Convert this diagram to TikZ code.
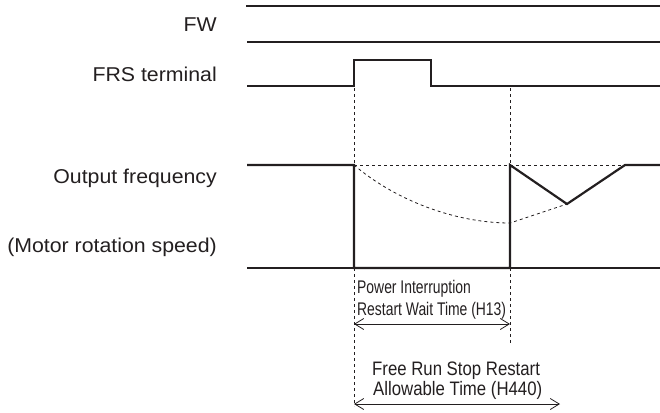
\documentclass[tikz,border=0pt]{standalone}
\usepackage{fontspec}
\setmainfont{Liberation Sans}
\newfontfamily\lblfont[FakeStretch=1.065]{Liberation Sans}
\newfontfamily\narrowfont[FakeStretch=0.76]{Liberation Sans}
\newfontfamily\midfont[FakeStretch=0.86]{Liberation Sans}
\usetikzlibrary{arrows.meta}
\definecolor{ink}{RGB}{35,31,32}
\tikzstyle{sig}=[line width=2.2pt, draw=ink]
\tikzstyle{thinsig}=[line width=1.2pt, draw=ink]
\tikzstyle{guide}=[line width=0.8pt, draw=ink, dash pattern=on 3pt off 3pt]
\tikzstyle{dimarrow}=[line width=0.8pt, draw=ink, {Straight Barb[length=9pt,width=11pt]}-{Straight Barb[length=9pt,width=11pt]}]
\tikzstyle{lbl}=[anchor=base east, inner sep=0, text=ink, font=\lblfont\fontsize{20}{24}\selectfont]
\tikzstyle{smalltxt}=[anchor=base west, inner sep=0, text=ink, font=\narrowfont\fontsize{18.3}{22}\selectfont]
\tikzstyle{midtxt}=[anchor=base west, inner sep=0, text=ink, font=\midfont\fontsize{19.5}{23}\selectfont]

\begin{document}
\begin{tikzpicture}[x=1pt,y=-1pt]
\useasboundingbox (0,0) rectangle (660,412);
% signal names
\node at (217,32)[lbl](fw){FW};
\node at (217,81)[lbl](frs){FRS terminal};
\node at (217,183)[lbl](fout){Output frequency};
\node at (217,252)[lbl](speed){(Motor rotation speed)};
% waveforms
\draw[sig] (246,6)--(660,6);
\draw[thinsig] (247,42)--(660,42);
\draw[sig] (247,86)--(354,86)--(354,60)--(431,60)--(431,86)--(660,86);
\draw[thinsig] (247,268)--(660,268);
\draw[sig] (247,165)--(354,165)--(354,268)--(510,268)--(510,165)--(567,204)--(625,165)--(660,165);
% guides
\coordinate (cut) at (354,88);
\coordinate (cutend) at (354,406);
\coordinate (back) at (510,88);
\coordinate (backend) at (510,343);
\draw[guide] (cut)--(cutend);
\draw[guide] (back)--(backend);
\draw[guide] (354,165)--(625,165);
\draw[guide] (354,165) .. controls (395,200) and (455,223) .. (510,223) -- (567,204);
% times
\node at (357,293)[smalltxt](pi1){Power Interruption};
\node at (357,315)[smalltxt](pi2){Restart Wait Time (H13)};
\coordinate (h13a) at (354,324);
\coordinate (h13b) at (510,324);
\draw[dimarrow] (h13a)--(h13b);
\node at (372,375)[midtxt](fr1){Free Run Stop Restart};
\node at (373,395)[midtxt](fr2){Allowable Time (H440)};
\coordinate (h440a) at (354,404);
\coordinate (h440b) at (560,404);
\draw[dimarrow] (h440a)--(h440b);
\end{tikzpicture}
\end{document}
